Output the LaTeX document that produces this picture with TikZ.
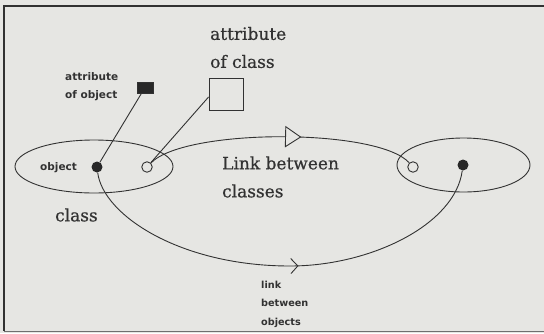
\documentclass[tikz,border=0pt]{standalone}
\usepackage{fontspec}
\setmainfont{DejaVu Serif}
\setsansfont{DejaVu Sans}
\newfontfamily\bigserif{DejaVu Serif}[FakeBold=0.6]
\usetikzlibrary{shapes.geometric,decorations.markings}
\definecolor{paper}{RGB}{230,230,227}
\definecolor{ink}{RGB}{50,50,50}
\definecolor{inkdark}{RGB}{40,40,40}
\begin{document}
\begin{tikzpicture}[x=1pt,y=-1pt,
  line/.style={draw=ink,line width=0.9pt},
  ell/.style={ellipse,draw=ink,line width=0.9pt,inner sep=0pt},
  fdot/.style={circle,fill=inkdark,minimum size=11pt,inner sep=0pt},
  odot/.style={circle,draw=ink,fill=paper,line width=0.9pt,minimum size=10.5pt,inner sep=0pt},
  big/.style={font=\bigserif\fontsize{17}{28}\selectfont,text=ink,inner sep=0pt,align=left},
  small/.style={font=\sffamily\bfseries\fontsize{10.5}{17.5}\selectfont,text=ink,inner sep=0pt,align=left},
]
\fill[paper] (0,0) rectangle (544,333);
\useasboundingbox (0,0) rectangle (544,333);
\draw[ink,line width=1.2pt] (544,6) -- (4,6) -- (4,331);
\draw[ink!70,line width=1pt] (4,331.5) -- (544,331.5);

\node[ell,minimum width=158pt,minimum height=53pt] (cL) at (94,166.5) {};
\node[ell,minimum width=133pt,minimum height=54pt] (cR) at (463.5,165) {};
\node[fdot] (dL) at (97,167) {};
\node[odot] (oL) at (147,167) {};
\node[odot] (oR) at (413,167) {};
\node[fdot] (dR) at (463,165) {};
\node[draw=ink,line width=0.9pt,minimum width=34pt,minimum height=32pt,inner sep=0pt] (ac) at (226,94) {};
\node[fill=inkdark,draw=ink,minimum width=16pt,minimum height=11pt,inner sep=0pt] (ao) at (145,87.5) {};

\draw[line] (ao) -- (dL);
\draw[line] (oL) -- ([yshift=-3pt]ac.west);

\draw[line, postaction={decorate}, decoration={markings, mark=at position 0.55 with {\draw[ink,fill=paper,line width=0.9pt] (-8pt,-10pt) -- (7pt,0pt) -- (-8pt,10pt) -- cycle;}}]
  (oL) .. controls (185,128) and (378,128) .. (oR);

\draw[line, postaction={decorate}, decoration={markings, mark=at position 0.53 with {\draw[ink,line width=0.9pt] (-4pt,-7.5pt) -- (3pt,0pt) -- (-4pt,7.5pt);}}]
  (dL) .. controls (103,215) and (180,266) .. (290,266) .. controls (370,266) and (455,225) .. (dR);

\node[big,anchor=west] (tac) at (210,47.5) {attribute\\of class};
\node[small,anchor=west] (tao) at (65,86.5) {attribute\\of object};
\node[small,anchor=west] (tob) at (40,167.5) {object};
\node[big,anchor=west] (tcl) at (55,215) {class};
\node[big,anchor=west] (tlc) at (222,177) {Link between\\classes};
\node[small,anchor=west,font=\sffamily\bfseries\fontsize{9.7}{18.5}\selectfont] (tlo) at (261,304) {link\\between\\objects};
\end{tikzpicture}
\end{document}
